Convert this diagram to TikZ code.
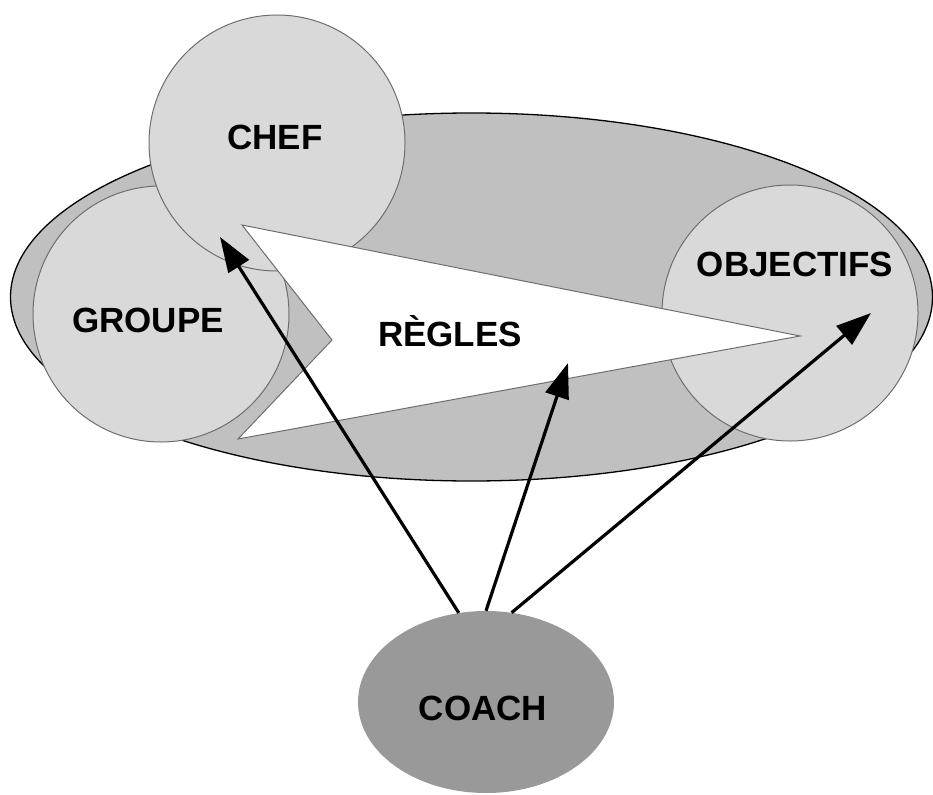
\documentclass[tikz,border=0pt]{standalone}
\usepackage{fontspec}
\setmainfont{Liberation Sans}
\usepackage{tikz}
\usetikzlibrary{positioning,arrows.meta,shapes.geometric}
\definecolor{zonebg}{HTML}{C0C0C0}
\definecolor{rondbg}{HTML}{D9D9D9}
\definecolor{rondln}{HTML}{6E6E6E}
\definecolor{coachbg}{HTML}{999999}
\tikzset{
  zone/.style={ellipse,draw=black,line width=1.3pt,fill=zonebg,inner sep=0pt},
  rond/.style={circle,draw=rondln,line width=1pt,fill=rondbg,inner sep=0pt,
    minimum size=256pt},
  coachst/.style={ellipse,fill=coachbg,inner sep=0pt,
    minimum width=256pt,minimum height=182pt},
  regl/.style={draw=rondln,line width=1pt,fill=white,line join=miter},
  ar/.style={-{Triangle[length=35pt,width=24pt]},line width=3.2pt,draw=black},
  lbl/.style={font=\fontsize{35}{42}\selectfont\bfseries,inner sep=0pt,
    text height=25pt,text depth=0pt},
}
\begin{document}
\begin{tikzpicture}[x=1pt,y=-1pt]
  \useasboundingbox (0,0) rectangle (933,794);
  \node[zone,minimum width=922pt,minimum height=368pt] (zone) at (471.5,297) {};
  \node[rond] (groupe) at (161,314) {};
  \node[rond] (chef) at (277,143) {};
  \node[rond] (obj) at (790,313) {};
  % grande fleche blanche
  \draw[regl] (242,225) -- (800,336) -- (238,439) -- (332,340) -- cycle;
  \node[lbl] (tchef) at (275,137.5) {CHEF};
  \node[lbl] (tgroupe) at (148,320) {GROUPE};
  \node[lbl] (tobj) at (795,264) {OBJECTIFS};
  \node[lbl] (tregles) at (450,334) {RÈGLES};
  \node[coachst] (coach) at (486,702) {};
  \node[lbl] (tcoach) at (483,708) {COACH};
  \coordinate (pchef) at (220,237);
  \coordinate (pregles) at (568,363);
  \coordinate (pobj) at (871,313);
  \draw[ar] (coach.107.5) -- (pchef);
  \draw[ar] (coach.90.6) -- (pregles);
  \draw[ar] (coach.74.5) -- (pobj);
\end{tikzpicture}
\end{document}
